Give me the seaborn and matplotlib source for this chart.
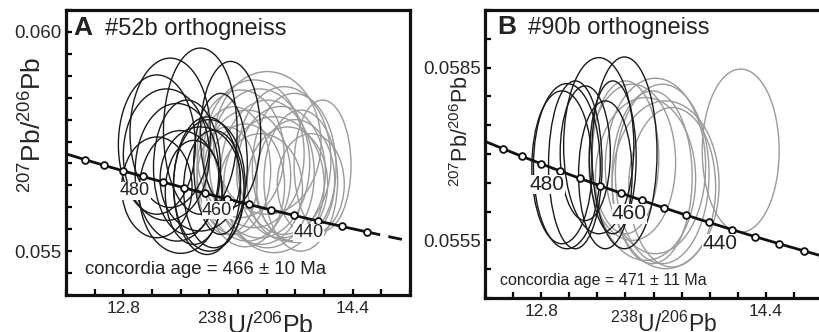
import numpy as np
import pandas as pd
import matplotlib
matplotlib.use("Agg")
import matplotlib.pyplot as plt
import seaborn as sns
from matplotlib.patches import Ellipse

sns.set_style("ticks")
plt.rcParams["font.family"] = ["Liberation Sans", "DejaVu Sans"]
plt.rcParams["mathtext.fontset"] = "custom"
plt.rcParams["mathtext.rm"] = "Liberation Sans"
plt.rcParams["mathtext.it"] = "Liberation Sans:italic"
plt.rcParams["mathtext.bf"] = "Liberation Sans:bold"

# ---------------- data ----------------
# concordia reference points (age in Ma, 238U/206Pb, 207Pb/206Pb)
conc_age = [505, 500, 495, 490, 485, 480, 475, 470, 465, 460, 455, 450, 445, 440, 435, 430, 425, 420]
conc_x = [12.2717, 12.3993, 12.5294, 12.6623, 12.7978, 12.9362, 13.0775, 13.2218, 13.3693,
          13.5199, 13.6738, 13.8312, 13.9921, 14.1566, 14.3250, 14.4973, 14.6735, 14.8540]
conc_y = [0.057350, 0.057220, 0.057090, 0.056960, 0.056832, 0.056703, 0.056575, 0.056447, 0.056320,
          0.056193, 0.056066, 0.055940, 0.055815, 0.055689, 0.055564, 0.055440, 0.055316, 0.055192]

# Panel A (#52b) ellipses: centre x, centre y, full width, full height
a_black_x = [13.337, 13.127, 13.548, 13.034, 13.244, 13.174, 13.384, 13.431, 13.337, 13.034, 13.478, 13.291,
             13.200, 13.400, 13.100]
a_black_y = [0.057737, 0.057699, 0.057661, 0.057431, 0.056914, 0.056799, 0.056493, 0.056417, 0.056646, 0.056455,
             0.056990, 0.056340, 0.056350, 0.056500, 0.057200]
a_black_w = [0.514, 0.561, 0.421, 0.537, 0.467, 0.584, 0.467, 0.421, 0.561, 0.491, 0.374, 0.397,
             0.580, 0.500, 0.600]
a_black_h = [0.00379, 0.003407, 0.003331, 0.003178, 0.003063, 0.003139, 0.003139, 0.00268, 0.002374, 0.002297,
             0.003216, 0.002374, 0.002800, 0.003000, 0.003000]

a_gray_x = [13.805, 13.711, 13.921, 13.618, 13.992, 14.190, 13.805, 13.664, 14.038, 13.851, 13.571, 13.945,
            13.758, 13.524, 14.108, 13.750, 13.900, 13.650, 14.000]
a_gray_y = [0.057469, 0.057221, 0.057067, 0.057221, 0.056914, 0.056953, 0.056761, 0.056723, 0.056608, 0.056516,
            0.056838, 0.056531, 0.056417, 0.056608, 0.056531, 0.057000, 0.056800, 0.056500, 0.056600]
a_gray_w = [0.748, 0.701, 0.654, 0.607, 0.584, 0.397, 0.654, 0.607, 0.514, 0.701, 0.514, 0.561,
            0.584, 0.421, 0.467, 0.700, 0.620, 0.550, 0.550]
a_gray_h = [0.003254, 0.003369, 0.003369, 0.00291, 0.003369, 0.002986, 0.003369, 0.002986, 0.003216, 0.003101,
            0.00291, 0.002603, 0.002527, 0.00245, 0.002297, 0.003400, 0.003000, 0.002800, 0.002800]

# Panel B (#90b) ellipses
b_black_x = [12.983, 13.043, 13.210, 13.393, 13.310, 12.948, 13.114, 13.257]
b_black_y = [0.056789, 0.056812, 0.057144, 0.057020, 0.056942, 0.056769, 0.057014, 0.056639]
b_black_w = [0.476, 0.381, 0.500, 0.464, 0.333, 0.429, 0.357, 0.381]
b_black_h = [0.002867, 0.002913, 0.003058, 0.003329, 0.002654, 0.002654, 0.002337, 0.002567]

b_gray_x = [13.614, 13.662, 13.686, 13.543, 13.448, 13.400, 13.733, 13.590, 14.221]
b_gray_y = [0.056792, 0.056654, 0.056466, 0.056567, 0.056856, 0.056942, 0.056423, 0.056596, 0.057058]
b_gray_w = [0.714, 0.667, 0.762, 0.714, 0.619, 0.476, 0.619, 0.571, 0.548]
b_gray_h = [0.003046, 0.003115, 0.002913, 0.002827, 0.002712, 0.002654, 0.002769, 0.003000, 0.002833]

# age labels: text, x, y
a_lab_text = ["480", "460", "440"]
a_lab_x = [12.882, 13.454, 14.090]
a_lab_y = [0.056378, 0.055934, 0.055421]
b_lab_text = ["480", "460", "440"]
b_lab_x = [12.845, 13.429, 14.071]
b_lab_y = [0.056470, 0.055962, 0.055442]

# ---------------- figure ----------------
W, H = 819, 332
fig = plt.figure(figsize=(W / 100, H / 100), dpi=100)
axA = fig.add_axes([66 / W, 37 / H, 344 / W, 285 / H])
axB = fig.add_axes([485 / W, 34 / H, 337 / W, 288 / H])

conc = pd.DataFrame({"age": conc_age, "x": conc_x, "y": conc_y})


def draw_ellipses(ax, xs, ys, ws, hs, color, lw, z):
    for x, y, w, h in zip(xs, ys, ws, hs):
        ax.add_patch(Ellipse((x, y), w, h, fill=False, edgecolor=color, linewidth=lw, zorder=z))


def style_axis(ax, ylim, yticks_lab, ylab_fmt):
    ax.set_xlim(12.4, 14.8)
    ax.set_ylim(*ylim)
    xt = np.round(np.arange(12.4, 14.81, 0.2), 1)
    ax.set_xticks(xt)
    ax.set_xticklabels(["12.8" if abs(v - 12.8) < 1e-6 else "14.4" if abs(v - 14.4) < 1e-6 else "" for v in xt])
    yt = np.round(np.arange(ylim[0], ylim[1] + 1e-9, 0.0005), 5)
    ax.set_yticks(yt)
    ax.set_yticklabels([ylab_fmt.format(v) if any(abs(v - t) < 1e-7 for t in yticks_lab) else "" for v in yt])
    ax.tick_params(axis="both", direction="in", length=4, width=1.6, color="black")
    ax.tick_params(axis="x", labelsize=12.5, pad=4)
    ax.tick_params(axis="y", labelsize=13.5, pad=3)
    for s in ax.spines.values():
        s.set_linewidth(2.3)
        s.set_color("#111111")
    ax.set_xlabel("")
    ax.set_ylabel("")


for ax, bx, by, bw, bh, gx, gy, gw, gh in [
    (axA, a_black_x, a_black_y, a_black_w, a_black_h, a_gray_x, a_gray_y, a_gray_w, a_gray_h),
    (axB, b_black_x, b_black_y, b_black_w, b_black_h, b_gray_x, b_gray_y, b_gray_w, b_gray_h),
]:
    draw_ellipses(ax, gx, gy, gw, gh, "#9a9a9a", 1.0, 2)
    draw_ellipses(ax, bx, by, bw, bh, "#1a1a1a", 1.0, 3)

# Panel A concordia: solid to 430 Ma, dashed beyond
solidA = conc[conc["age"] >= 430]
dashA = conc[conc["age"] <= 430]
sns.lineplot(data=solidA, x="x", y="y", sort=False, estimator=None, color="#111111", lw=2.0, ax=axA, zorder=5)
sns.lineplot(data=dashA, x="x", y="y", sort=False, estimator=None, color="#111111", lw=2.0,
             linestyle=(0, (5, 3)), ax=axA, zorder=5)
mA = conc[(conc["age"] >= 430) & (conc["age"] <= 495)]
sns.scatterplot(data=mA, x="x", y="y", s=24, facecolor="white", edgecolor="#111111", linewidth=1.3, ax=axA, zorder=6)

sns.lineplot(data=conc, x="x", y="y", sort=False, estimator=None, color="#111111", lw=2.0, ax=axB, zorder=5)
mB = conc[(conc["age"] >= 425) & (conc["age"] <= 495)]
sns.scatterplot(data=mB, x="x", y="y", s=24, facecolor="white", edgecolor="#111111", linewidth=1.3, ax=axB, zorder=6)

for ax, tx, xs, ys, fs in [(axA, a_lab_text, a_lab_x, a_lab_y, 13), (axB, b_lab_text, b_lab_x, b_lab_y, 15)]:
    for t, x, y in zip(tx, xs, ys):
        ax.text(x, y, t, fontsize=fs, ha="center", va="center", color="#222222", zorder=7,
                bbox=dict(facecolor="white", edgecolor="none", pad=0.3))

style_axis(axA, (0.054, 0.0605), [0.055, 0.060], "{:.3f}")
style_axis(axB, (0.0545, 0.0595), [0.0555, 0.0585], "{:.4f}")

ylab = r"$^{207}$Pb/$^{206}$Pb"
xlab = r"$^{238}$U/$^{206}$Pb"
axA.set_ylabel(ylab, fontsize=19)
axA.yaxis.set_label_coords(-0.055, 0.596)
axA.set_xlabel(xlab, fontsize=18)
axA.xaxis.set_label_coords(0.55, -0.06)
axB.set_ylabel(ylab, fontsize=15.5)
axB.yaxis.set_label_coords(-0.036, 0.578)
axB.set_xlabel(xlab, fontsize=16.5)
axB.xaxis.set_label_coords(0.53, -0.049)

axA.text(0.022, 0.912, "A", transform=axA.transAxes, fontsize=19, fontweight="bold", va="baseline", color="#222222")
axA.text(0.113, 0.912, "#52b orthogneiss", transform=axA.transAxes, fontsize=17, va="baseline", color="#222222")
axB.text(0.036, 0.917, "B", transform=axB.transAxes, fontsize=19, fontweight="bold", va="baseline", color="#222222")
axB.text(0.128, 0.917, "#90b orthogneiss", transform=axB.transAxes, fontsize=17, va="baseline", color="#222222")

axA.text(0.055, 0.088, "concordia age = 466 ± 10 Ma", transform=axA.transAxes, fontsize=13.4, va="center", color="#222222")
axB.text(0.045, 0.0625, "concordia age = 471 ± 11 Ma", transform=axB.transAxes, fontsize=11.5, va="center", color="#222222")

fig.savefig("out.png", dpi=100)
